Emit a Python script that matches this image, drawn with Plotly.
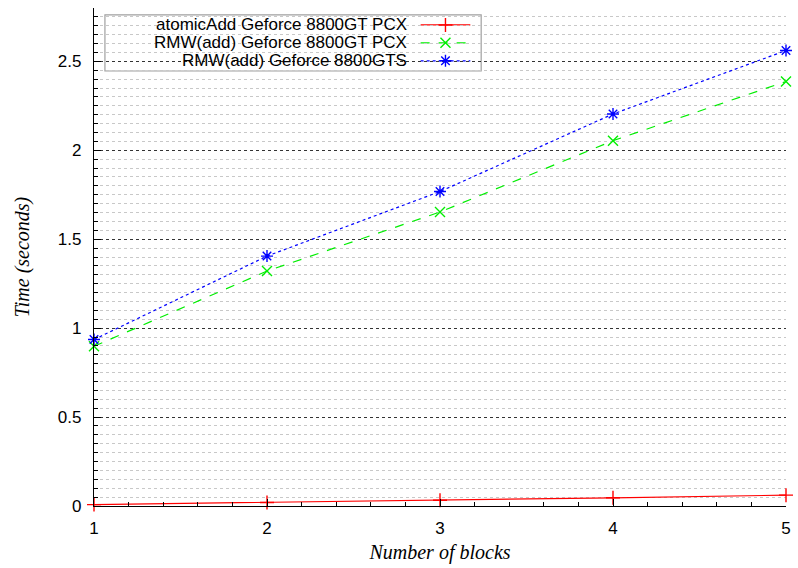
import plotly.graph_objects as go

blocks = [1, 2, 3, 4, 5]
atomic_gt_pcx = [0.008, 0.020, 0.032, 0.046, 0.061]
rmw_gt_pcx = [0.898, 1.321, 1.653, 2.054, 2.387]
rmw_gts = [0.936, 1.405, 1.768, 2.204, 2.561]

series_names = ["atomicAdd Geforce 8800GT PCX",
                "RMW(add) Geforce 8800GT PCX",
                "RMW(add) Geforce 8800GTS"]
y_ticks = [0, 0.5, 1, 1.5, 2, 2.5]
x_ticks = [1, 2, 3, 4, 5]

colors = ["#ff0000", "#00ee00", "#0000ff"]
dashes = ["solid", "dash", "dot"]
symbols = ["cross-thin-open", "x-thin-open", "asterisk-open"]
series = [atomic_gt_pcx, rmw_gt_pcx, rmw_gts]

fig = go.Figure()
for name, ys, c, d, s in zip(series_names, series, colors, dashes, symbols):
    fig.add_trace(go.Scatter(
        x=blocks, y=ys, name=name, mode="lines+markers",
        line=dict(color=c, width=1.2, dash=d),
        marker=dict(symbol=s, size=10, color=c, line=dict(color=c, width=1.4)),
        cliponaxis=False, showlegend=False))

# manual legend (gnuplot style: text right-aligned, sample on the right)
lx0, lx1, ly0, ly1 = 0.0158, 0.5595, 0.8735, 0.986
text_right = 0.4534
samp0, samp1 = 0.472, 0.5438
rows_y = [0.966, 0.930, 0.894]
shapes = [dict(type="rect", xref="paper", yref="paper", x0=lx0, x1=lx1, y0=ly0, y1=ly1,
               fillcolor="white", line=dict(color="#a0a0a0", width=1.2), layer="between")]
annotations = []
for name, c, d, s, ry in zip(series_names, colors, dashes, symbols, rows_y):
    shapes.append(dict(type="line", xref="paper", yref="paper", x0=samp0, x1=samp1,
                       y0=ry, y1=ry, line=dict(color=c, width=1.2, dash=d), layer="between"))
    annotations.append(dict(x=text_right, y=ry, xref="paper", yref="paper", text=name,
                            showarrow=False, xanchor="right", yanchor="middle",
                            borderpad=0,
                            font=dict(family="Liberation Sans, Arial", size=17, color="black")))
    fig.add_trace(go.Scatter(
        x=[(samp0 + samp1) / 2], y=[ry], xaxis="x2", yaxis="y2", mode="markers",
        marker=dict(symbol=s, size=10, color=c, line=dict(color=c, width=1.4)),
        showlegend=False, hoverinfo="skip", cliponaxis=False))

fig.update_layout(
    width=798, height=568,
    margin=dict(l=94, r=7, t=8, b=62),
    plot_bgcolor="white", paper_bgcolor="white",
    font=dict(family="Liberation Sans, Arial", size=17, color="black"),
    shapes=shapes, annotations=annotations,
    xaxis=dict(
        range=[1, 5], tickvals=x_ticks, ticktext=[str(v) for v in x_ticks],
        showline=True, linecolor="black", linewidth=1.2, mirror=False,
        ticks="inside", ticklen=7, tickcolor="black", tickwidth=1,
        showgrid=False, zeroline=False, ticklabelstandoff=6,
        ticklabeloverflow="allow",
        minor=dict(dtick=0.2, ticks="inside", ticklen=4, tickcolor="black", showgrid=False),
        title=dict(text="Number of blocks", standoff=8,
                   font=dict(family="Liberation Serif, Times New Roman", size=20, style="italic")),
    ),
    yaxis=dict(
        range=[0, 2.8], tickvals=y_ticks, ticktext=[str(v) for v in y_ticks],
        showline=True, linecolor="black", linewidth=1.2, mirror=False,
        ticks="inside", ticklen=7, tickcolor="black", tickwidth=1,
        showgrid=True, gridcolor="#333333", griddash="dot", gridwidth=1,
        zeroline=False, ticklabelstandoff=8,
        minor=dict(dtick=0.05, ticks="inside", ticklen=4, tickcolor="black",
                   showgrid=True, gridcolor="#c8c8c8", griddash="dot", gridwidth=1),
        title=dict(text="Time (seconds)", standoff=22,
                   font=dict(family="Liberation Serif, Times New Roman", size=20, style="italic")),
    ),
    xaxis2=dict(range=[0, 1], overlaying="x", visible=False, fixedrange=True),
    yaxis2=dict(range=[0, 1], overlaying="y", visible=False, fixedrange=True),
)

fig.write_html("out.html", config={"displayModeBar": False},
               post_script="document.body.style.margin='0px';document.body.style.overflow='hidden';")
